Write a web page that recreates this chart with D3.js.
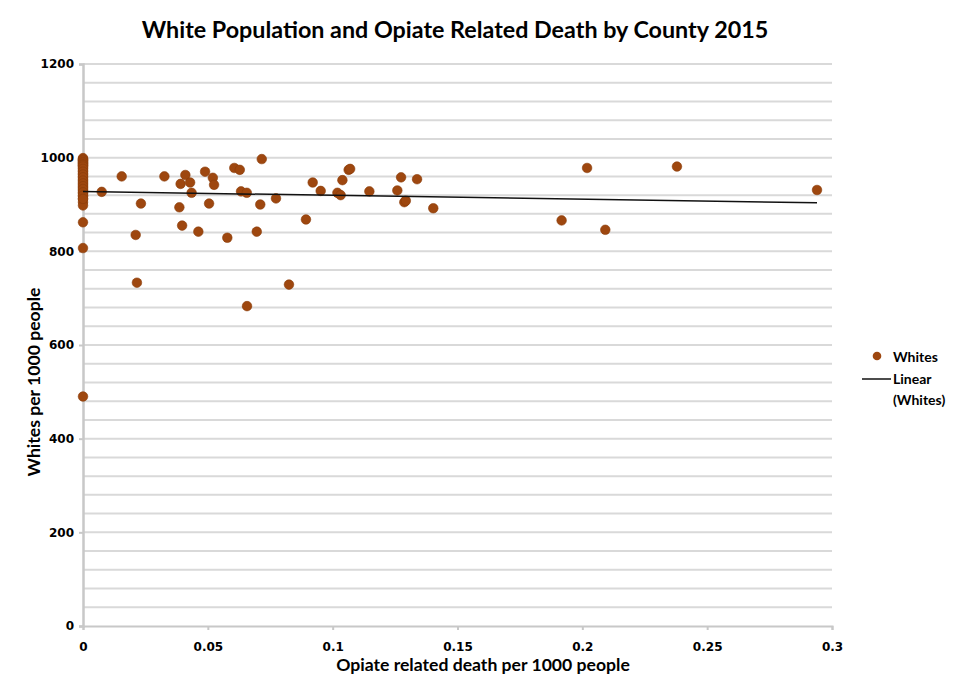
<!DOCTYPE html>
<html>
<head>
<meta charset="utf-8">
<script src="https://cdn.jsdelivr.net/npm/d3@7/dist/d3.min.js"></script>
<style>
  html, body { margin: 0; padding: 0; background: #fff; }
  svg { display: block; }
</style>
</head>
<body>
<svg id="chart" width="971" height="685"></svg>
<script>
// Opiate related deaths per 1000 people (x) vs. whites per 1000 people (y), one point per county
const deathRate = [
  0, 0, 0, 0, 0, 0, 0, 0, 0, 0, 0, 0, 0, 0, 0, 0, 0, 0, 0, 0, 0,
  0, 0, 0, 0, 0, 0, 0, 0, 0, 0, 0, 0, 0, 0, 0, 0, 0, 0, 0,
  0.0075, 0.0155, 0.0211, 0.0216, 0.0232, 0.0326, 0.0386, 0.0391, 0.0397, 0.041,
  0.0429, 0.0435, 0.0462, 0.0489, 0.0505, 0.052, 0.0525, 0.0578, 0.0606, 0.0628,
  0.0633, 0.0656, 0.0657, 0.0696, 0.071, 0.0716, 0.0773, 0.0825, 0.0893, 0.092,
  0.0952, 0.1019, 0.1032, 0.1039, 0.1064, 0.107, 0.1147, 0.1259, 0.1274, 0.1287,
  0.1293, 0.1338, 0.1403, 0.1917, 0.2019, 0.2092, 0.2379, 0.294
];
const whitesPer1000 = [
  997, 993, 988, 983, 978, 972, 966, 960, 954, 948, 942, 936, 930, 924, 918, 912, 905, 898, 862, 807, 490,
  999, 996, 994, 991, 989, 986, 984, 981, 976, 970, 964, 958, 951, 945, 939, 933, 926, 919, 912,
  927, 960, 835, 733, 902, 960, 894, 944, 855, 963,
  947, 925, 842, 970, 902, 957, 942, 829, 978, 974,
  928, 925, 683, 842, 900, 997, 913, 729, 868, 947,
  929, 925, 920, 952, 974, 976, 928, 930, 958, 905,
  908, 954, 892, 866, 978, 846, 981, 931
];

const xTicks = [0, 0.05, 0.1, 0.15, 0.2, 0.25, 0.3];
const yTicks = [0, 200, 400, 600, 800, 1000, 1200];
const gridStep = 40;

const titleText = "White Population and Opiate Related Death by County 2015";
const xTitle = "Opiate related death per 1000 people";
const yTitle = "Whites per 1000 people";
const legendLabels = ["Whites", "Linear", "(Whites)"];

const svg = d3.select("#chart");
const W = 971, H = 685;
const plot = { left: 83, right: 832, top: 64, bottom: 626 };

svg.append("rect").attr("width", W).attr("height", H).attr("fill", "#fff");

const x = d3.scaleLinear().domain([0, 0.3]).range([plot.left, plot.right]);
const y = d3.scaleLinear().domain([0, 1200]).range([plot.bottom, plot.top]);

// horizontal gridlines every 40
const gridVals = d3.range(gridStep, 1200 + 1, gridStep);
svg.append("g").selectAll("line").data(gridVals).join("line")
  .attr("x1", plot.left).attr("x2", plot.right)
  .attr("y1", d => y(d)).attr("y2", d => y(d))
  .attr("stroke", "#d9d9d9").attr("stroke-width", 2);

// y axis
const yAxis = d3.axisLeft(y).tickValues(yTicks).tickSize(4).tickPadding(5)
  .tickFormat(d3.format("d"));
const gy = svg.append("g").attr("transform", `translate(${plot.left},0)`).call(yAxis);
gy.select(".domain").attr("stroke", "#c8c8c8").attr("stroke-width", 2.5);
gy.selectAll(".tick line").attr("stroke", "#c8c8c8").attr("stroke-width", 2);
gy.selectAll(".tick text")
  .attr("font-family", "DejaVu Sans").attr("font-weight", "bold")
  .attr("font-size", 12).attr("fill", "#000");

// x axis
const xAxis = d3.axisBottom(x).tickValues(xTicks).tickSize(4).tickPadding(12)
  .tickFormat(d => d === 0 ? "0" : String(d));
const gx = svg.append("g").attr("transform", `translate(0,${plot.bottom})`).call(xAxis);
gx.select(".domain").attr("stroke", "#c8c8c8").attr("stroke-width", 2);
gx.selectAll(".tick line").attr("stroke", "#c8c8c8").attr("stroke-width", 2);
gx.selectAll(".tick text")
  .attr("font-family", "DejaVu Sans").attr("font-weight", "bold")
  .attr("font-size", 12).attr("fill", "#000");

// least-squares trend line
const pts = deathRate.map((d, i) => [d, whitesPer1000[i]]);
const mx = d3.mean(pts, p => p[0]), my = d3.mean(pts, p => p[1]);
const sxy = d3.sum(pts, p => (p[0] - mx) * (p[1] - my));
const sxx = d3.sum(pts, p => (p[0] - mx) ** 2);
const slope = sxy / sxx, intercept = my - slope * mx;
const xMax = d3.max(deathRate);

// points
const dotColor = "#9e470f";
svg.append("g").selectAll("circle").data(pts).join("circle")
  .attr("cx", d => x(d[0])).attr("cy", d => y(d[1])).attr("r", 4.8)
  .attr("fill", dotColor).attr("stroke", "#8a3c0a").attr("stroke-width", 0.6);

svg.append("line")
  .attr("x1", x(0)).attr("y1", y(intercept))
  .attr("x2", x(xMax)).attr("y2", y(intercept + slope * xMax))
  .attr("stroke", "#111").attr("stroke-width", 1.5);

// title
svg.append("text").attr("x", 455).attr("y", 38).attr("text-anchor", "middle")
  .attr("font-family", "Lato").attr("font-weight", "bold")
  .attr("font-size", 23.3).attr("fill", "#000")
  .text(titleText);

// axis titles
svg.append("text").attr("x", 483).attr("y", 671).attr("text-anchor", "middle")
  .attr("font-family", "Lato").attr("font-weight", "bold")
  .attr("font-size", 17.6).attr("fill", "#000")
  .text(xTitle);
svg.append("text").attr("transform", `translate(40,382) rotate(-90)`)
  .attr("text-anchor", "middle")
  .attr("font-family", "Lato").attr("font-weight", "bold")
  .attr("font-size", 17.6).attr("fill", "#000")
  .text(yTitle);

// legend
const lg = svg.append("g");
lg.append("circle").attr("cx", 877).attr("cy", 356).attr("r", 4.3).attr("fill", dotColor);
lg.append("line").attr("x1", 862).attr("x2", 891).attr("y1", 379).attr("y2", 379)
  .attr("stroke", "#111").attr("stroke-width", 1.5);
const legText = (t, yy) => lg.append("text").attr("x", 893).attr("y", yy)
  .attr("font-family", "Lato").attr("font-weight", "bold").attr("font-size", 14).attr("fill", "#000").text(t);
legText(legendLabels[0], 362);
legText(legendLabels[1], 384);
legText(legendLabels[2], 405);
</script>
</body>
</html>
